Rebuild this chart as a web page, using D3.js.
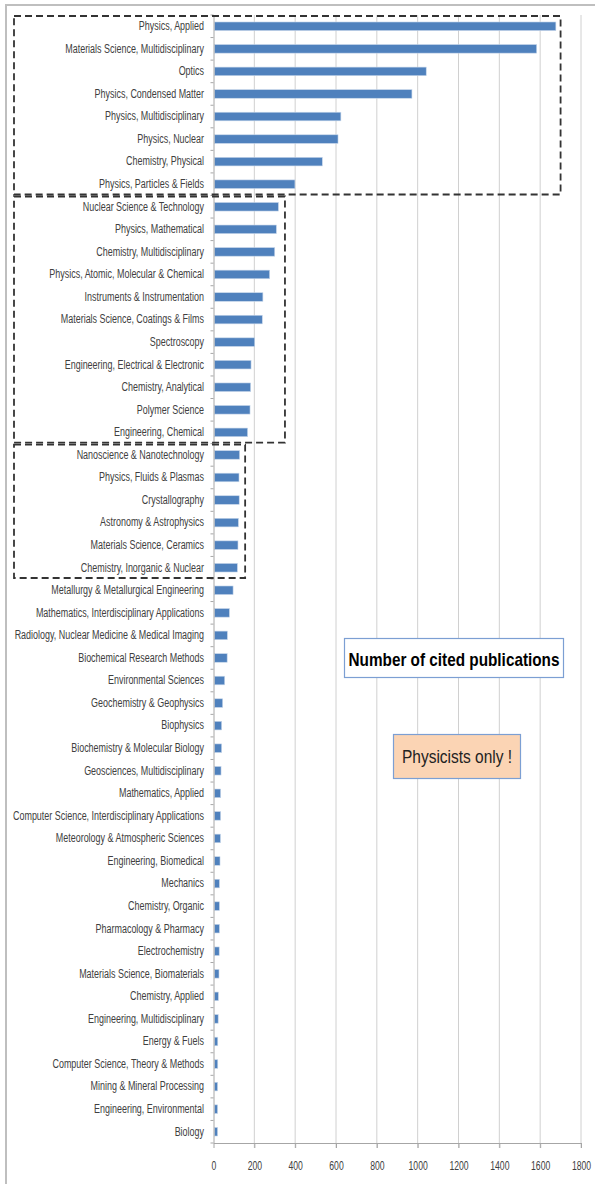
<!DOCTYPE html>
<html>
<head>
<meta charset="utf-8">
<script src="https://cdn.jsdelivr.net/npm/d3@7"></script>
<style>
  body { margin: 0; background: #fff; }
  svg { display: block; }
  text { font-family: "Liberation Sans", Arial, sans-serif; }
</style>
</head>
<body>
<svg id="chart" width="595" height="1184"></svg>
<script>
// subject categories, top to bottom
const categories = [
  "Physics, Applied", "Materials Science, Multidisciplinary", "Optics",
  "Physics, Condensed Matter", "Physics, Multidisciplinary", "Physics, Nuclear",
  "Chemistry, Physical", "Physics, Particles & Fields",
  "Nuclear Science & Technology", "Physics, Mathematical", "Chemistry, Multidisciplinary",
  "Physics, Atomic, Molecular & Chemical", "Instruments & Instrumentation",
  "Materials Science, Coatings & Films", "Spectroscopy", "Engineering, Electrical & Electronic",
  "Chemistry, Analytical", "Polymer Science", "Engineering, Chemical",
  "Nanoscience & Nanotechnology", "Physics, Fluids & Plasmas", "Crystallography",
  "Astronomy & Astrophysics", "Materials Science, Ceramics", "Chemistry, Inorganic & Nuclear",
  "Metallurgy & Metallurgical Engineering", "Mathematics, Interdisciplinary Applications",
  "Radiology, Nuclear Medicine & Medical Imaging", "Biochemical Research Methods",
  "Environmental Sciences", "Geochemistry & Geophysics", "Biophysics",
  "Biochemistry & Molecular Biology", "Geosciences, Multidisciplinary", "Mathematics, Applied",
  "Computer Science, Interdisciplinary Applications", "Meteorology & Atmospheric Sciences",
  "Engineering, Biomedical", "Mechanics", "Chemistry, Organic", "Pharmacology & Pharmacy",
  "Electrochemistry", "Materials Science, Biomaterials", "Chemistry, Applied",
  "Engineering, Multidisciplinary", "Energy & Fuels", "Computer Science, Theory & Methods",
  "Mining & Mineral Processing", "Engineering, Environmental", "Biology"
];

// number of cited publications
const values = [
  1672, 1578, 1037, 967, 619, 605, 528, 394,
  313, 303, 295, 270, 237, 234, 197, 179, 177, 174, 162,
  123, 120, 121, 117, 115, 112,
  91, 73, 63, 62, 50, 40, 35, 35, 32, 30, 30, 29, 27,
  24, 24, 24, 23, 22, 19, 18, 16, 16, 15, 15, 15
];

const tickValues = [0, 200, 400, 600, 800, 1000, 1200, 1400, 1600, 1800];

// the three dashed groups: first / last category in each, and right edge value
const groups = [
  ["Physics, Applied", "Physics, Particles & Fields", 1700],
  ["Nuclear Science & Technology", "Engineering, Chemical", 350],
  ["Nanoscience & Nanotechnology", "Chemistry, Inorganic & Nuclear", 155]
];

const data = categories.map((c, i) => ({name: c, value: values[i]}));

const font = '"Liberation Sans", Arial, sans-serif';

const svg = d3.select("#chart");

const plotTop = 15, plotBottom = 1143;

// the original uses a narrow face (Calibri); squeeze the text to match
function squeeze(sel, k) {
  sel.each(function() {
    const w = this.getComputedTextLength();
    d3.select(this)
      .attr("textLength", w * k)
      .attr("lengthAdjust", "spacingAndGlyphs");
  });
}

const x = d3.scaleLinear()
  .domain([0, 1800])
  .range([213.5, 581]);

const y = d3.scaleBand()
  .domain(categories)
  .range([plotTop, plotBottom])
  .paddingInner(0.62)
  .paddingOuter(0.31);

const outer = y.step() * 0.31;

// outer frame
svg.append("rect")
  .attr("x", 6).attr("y", 5)
  .attr("width", 600).attr("height", 1200)
  .attr("fill", "none")
  .attr("stroke", "#bfbfbf")
  .attr("stroke-width", 2);

// vertical gridlines
svg.append("g")
  .selectAll("line")
  .data(tickValues.slice(1))
  .join("line")
    .attr("x1", d => x(d)).attr("x2", d => x(d))
    .attr("y1", plotTop).attr("y2", plotBottom + 5)
    .attr("stroke", "#d0d0d0")
    .attr("stroke-width", 1);

// x axis
const xAxis = svg.append("g")
  .attr("transform", `translate(0,${plotBottom})`)
  .call(d3.axisBottom(x).tickValues(tickValues).tickFormat(d3.format("d"))
    .tickSize(5).tickPadding(13).tickSizeOuter(0));
xAxis.select(".domain").attr("stroke", "#a6a6a6");
xAxis.selectAll(".tick line").attr("stroke", "#a6a6a6");
xAxis.selectAll("text")
  .attr("font-size", 12)
  .attr("fill", "#404040")
  .style("font-family", font)
  .call(squeeze, 0.72);

// bars
svg.append("g")
  .selectAll("rect")
  .data(data)
  .join("rect")
    .attr("x", x(0) + 1)
    .attr("y", d => y(d.name))
    .attr("width", d => x(d.value) - x(0))
    .attr("height", y.bandwidth())
    .attr("fill", "#4f81bd")
    .attr("stroke", "#c6d6ea")
    .attr("stroke-width", 0.6);

// y axis with labels
const yAxis = svg.append("g")
  .attr("transform", `translate(${x(0)},0)`)
  .call(d3.axisLeft(y).tickSize(0).tickPadding(9.5).tickSizeOuter(0));
yAxis.select(".domain").attr("stroke", "#a6a6a6");
const yLabels = yAxis.selectAll("text")
  .attr("font-size", 12)
  .attr("fill", "#404040")
  .style("font-family", font);
let longest = 0;
yLabels.each(function() { longest = Math.max(longest, this.getComputedTextLength()); });
yLabels.call(squeeze, 191 / longest);

// category boundary ticks
svg.append("g")
  .selectAll("line")
  .data(categories.concat([null]))
  .join("line")
    .attr("x1", x(0) - 3).attr("x2", x(0))
    .attr("y1", (d, i) => plotTop + i * y.step())
    .attr("y2", (d, i) => plotTop + i * y.step())
    .attr("stroke", "#a6a6a6");

// dashed group boxes
svg.append("g")
  .selectAll("rect")
  .data(groups)
  .join("rect")
    .attr("x", 14)
    .attr("y", d => y(d[0]) - outer + 1)
    .attr("width", d => x(d[2]) - 14)
    .attr("height", d => y(d[1]) - y(d[0]) + y.bandwidth() + 2 * outer - 2)
    .attr("fill", "none")
    .attr("stroke", "#333")
    .attr("stroke-width", 1.8)
    .attr("stroke-dasharray", "7,4");

// annotation boxes
svg.append("rect")
  .attr("x", 344.5).attr("y", 638.5)
  .attr("width", 219).attr("height", 39)
  .attr("fill", "#fff")
  .attr("stroke", "#7c9fd3")
  .attr("stroke-width", 1.2);
svg.append("text")
  .attr("x", 454).attr("y", 666)
  .attr("text-anchor", "middle")
  .attr("font-size", 19)
  .attr("font-weight", "bold")
  .attr("fill", "#000")
  .style("font-family", font)
  .text("Number of cited publications")
  .call(squeeze, 1)
  .each(function() {
    d3.select(this).attr("textLength", Math.min(211, this.getComputedTextLength()));
  });

svg.append("rect")
  .attr("x", 393.5).attr("y", 734.5)
  .attr("width", 127).attr("height", 44)
  .attr("fill", "#fbd4b4")
  .attr("stroke", "#7c9fd3")
  .attr("stroke-width", 1.2);
svg.append("text")
  .attr("x", 457).attr("y", 763)
  .attr("text-anchor", "middle")
  .attr("font-size", 18)
  .attr("fill", "#222")
  .style("font-family", font)
  .text("Physicists only !")
  .call(squeeze, 1)
  .each(function() {
    d3.select(this).attr("textLength", Math.min(110, this.getComputedTextLength()));
  });
</script>
</body>
</html>
